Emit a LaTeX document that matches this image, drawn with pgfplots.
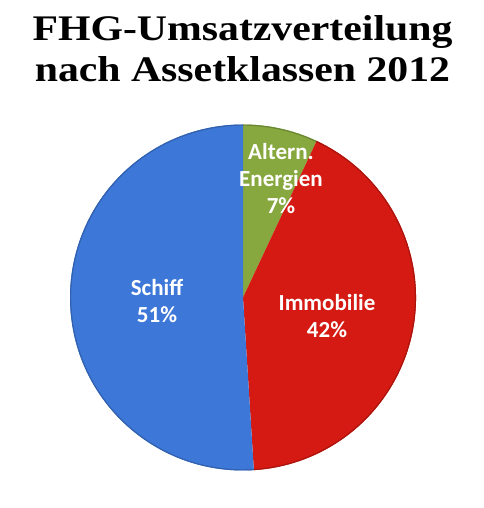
\documentclass[border=0pt]{standalone}
\usepackage{pgfplots}
\usepackage{pgfplotstable}
\pgfplotsset{compat=1.18}
\usepackage{fontspec}
\setmainfont{Liberation Serif}
\newfontfamily\titlefont[FakeStretch=1.16]{Liberation Serif}
\newfontfamily\labelfont{Carlito}

\definecolor{pieblue}{HTML}{3D78D8}
\definecolor{piered}{HTML}{D41A12}
\definecolor{piegreen}{HTML}{86A83E}

% share in percent, clockwise from 12 o'clock
\pgfplotstableread{
name value
Altern 7
Immobilie 42
Schiff 51
}\piedata

\begin{document}
\begin{tikzpicture}
  \pgfplotstablegetelem{0}{value}\of\piedata \let\vA\pgfplotsretval
  \pgfplotstablegetelem{1}{value}\of\piedata \let\vB\pgfplotsretval
  \pgfplotstablegetelem{2}{value}\of\piedata \let\vC\pgfplotsretval
  \pgfmathsetmacro\aA{90}
  \pgfmathsetmacro\aB{\aA-3.6*\vA}
  \pgfmathsetmacro\aC{\aB-3.6*\vB}
  \pgfmathsetmacro\aD{\aC-3.6*\vC}
  \begin{axis}[
    scale only axis,
    width=484bp, height=508bp,
    xmin=0, xmax=484, ymin=0, ymax=508,
    hide axis,
    clip=false,
  ]
    \path (rel axis cs:0,0) rectangle (rel axis cs:1,1);
    % slices
    \fill[piegreen] (axis cs:243,210.5) -- ++(\aA:173bp)
      arc[start angle=\aA, end angle=\aB, radius=173bp] -- cycle;
    \fill[piered] (axis cs:243,210.5) -- ++(\aB:173bp)
      arc[start angle=\aB, end angle=\aC, radius=173bp] -- cycle;
    \fill[pieblue] (axis cs:243,210.5) -- ++(\aC:173bp)
      arc[start angle=\aC, end angle=\aD, radius=173bp] -- cycle;
    % darker rim
    \draw[piegreen!80!black, line width=1.2bp] (axis cs:243,210.5) ++(\aA:172.4bp)
      arc[start angle=\aA, end angle=\aB, radius=172.4bp];
    \draw[piered!80!black, line width=1.2bp] (axis cs:243,210.5) ++(\aB:172.4bp)
      arc[start angle=\aB, end angle=\aC, radius=172.4bp];
    \draw[pieblue!80!black, line width=1.2bp] (axis cs:243,210.5) ++(\aC:172.4bp)
      arc[start angle=\aC, end angle=\aD, radius=172.4bp];

    % title
    \node[font=\titlefont\bfseries\fontsize{36bp}{41bp}\selectfont, anchor=base]
      at (axis cs:242.5,467) {FHG-Umsatzverteilung};
    \node[font=\titlefont\bfseries\fontsize{36bp}{41bp}\selectfont, anchor=base]
      at (axis cs:242.5,426) {nach Assetklassen 2012};

    % slice labels
    \node[font=\labelfont\bfseries\fontsize{23bp}{27bp}\selectfont, text=white, align=center]
      at (axis cs:281,329) {Altern.\\Energien\\\vA\%};
    \node[font=\labelfont\bfseries\fontsize{23bp}{27bp}\selectfont, text=white, align=center]
      at (axis cs:327,192) {Immobilie\\\vB\%};
    \node[font=\labelfont\bfseries\fontsize{23bp}{27bp}\selectfont, text=white, align=center]
      at (axis cs:157,207) {Schiff\\\vC\%};
  \end{axis}
\end{tikzpicture}
\end{document}
